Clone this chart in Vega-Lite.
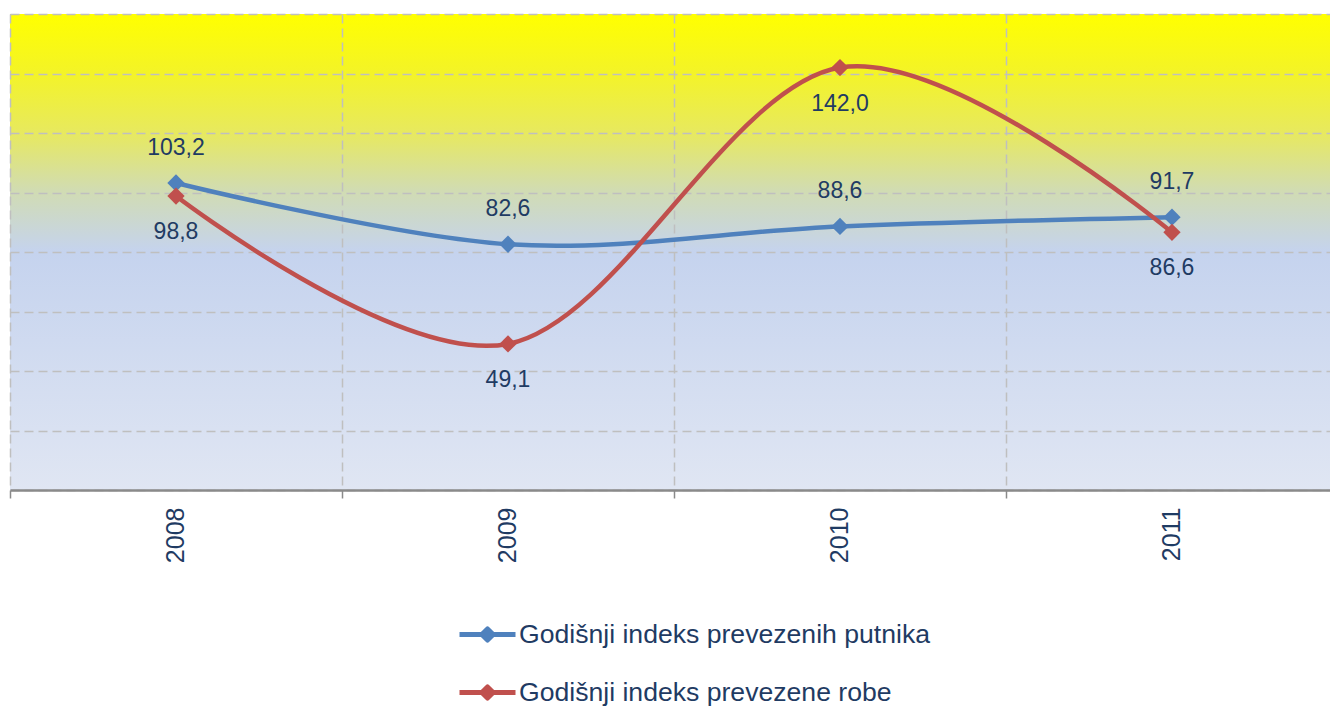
{
  "$schema": "https://vega.github.io/schema/vega-lite/v6.json",
  "width": 1320,
  "height": 476,
  "autosize": {"type": "none"},
  "padding": {"left": 10, "top": 14, "right": 0, "bottom": 216},
  "background": "#ffffff",
  "view": {
    "stroke": null,
    "fill": {
      "gradient": "linear",
      "x1": 0, "y1": 0, "x2": 0, "y2": 1,
      "stops": [
        {"offset": 0, "color": "#ffff00"},
        {"offset": 0.12, "color": "#f4f426"},
        {"offset": 0.25, "color": "#e7e95f"},
        {"offset": 0.37, "color": "#d1dcb2"},
        {"offset": 0.5, "color": "#c5d3ee"},
        {"offset": 1, "color": "#e0e6f3"}
      ]
    }
  },
  "config": {
    "font": "Liberation Sans",
    "locale": {"number": {"decimal": ",", "thousands": ".", "grouping": [3], "currency": ["", ""]}}
  },
  "data": {
    "values": [
      {"year": 2008, "series": "Godišnji indeks prevezenih putnika", "value": 103.2},
      {"year": 2009, "series": "Godišnji indeks prevezenih putnika", "value": 82.6},
      {"year": 2010, "series": "Godišnji indeks prevezenih putnika", "value": 88.6},
      {"year": 2011, "series": "Godišnji indeks prevezenih putnika", "value": 91.7},
      {"year": 2008, "series": "Godišnji indeks prevezene robe", "value": 98.8},
      {"year": 2009, "series": "Godišnji indeks prevezene robe", "value": 49.1},
      {"year": 2010, "series": "Godišnji indeks prevezene robe", "value": 142.0},
      {"year": 2011, "series": "Godišnji indeks prevezene robe", "value": 86.6}
    ]
  },
  "layer": [
    {
      "mark": {"type": "line", "interpolate": "cardinal", "strokeWidth": 4.5},
      "encoding": {
        "x": {
          "field": "year", "type": "quantitative",
          "scale": {"domain": [2007.5, 2011.476], "nice": false, "zero": false},
          "axis": {
            "orient": "bottom", "title": null, "labels": false,
            "values": [2007.5, 2008.5, 2009.5, 2010.5],
            "grid": true, "gridDash": [9, 5], "gridColor": "#bfbfbf", "gridWidth": 1.5,
            "ticks": true, "tickSize": 8, "tickColor": "#8a8a8a", "tickWidth": 1.5,
            "domain": true, "domainColor": "#8a8a8a", "domainWidth": 2.5
          }
        },
        "y": {
          "field": "value", "type": "quantitative",
          "scale": {"domain": [0, 160], "nice": false},
          "axis": {
            "title": null, "labels": false, "ticks": false, "domain": false,
            "values": [0, 20, 40, 60, 80, 100, 120, 140, 160],
            "grid": true, "gridDash": [9, 5], "gridColor": "#bfbfbf", "gridWidth": 1.5
          }
        },
        "color": {
          "field": "series", "type": "nominal",
          "scale": {
            "domain": ["Godišnji indeks prevezenih putnika", "Godišnji indeks prevezene robe"],
            "range": ["#4f81bd", "#c0504d"]
          },
          "legend": {
            "title": null, "orient": "none", "legendX": 447, "legendY": 590,
            "direction": "vertical", "padding": 0, "rowPadding": 13,
            "symbolType": "M-1,0L1,0M-0.2,0L0,-0.2L0.2,0L0,0.2Z",
            "symbolSize": 3136, "symbolStrokeWidth": 5,
            "labelFontSize": 26.6, "labelColor": "#1f3b63", "labelOffset": 1, "labelLimit": 800,
            "encode": {
              "symbols": {
                "update": {
                  "fill": {"scale": "color", "field": "value"},
                  "stroke": {"scale": "color", "field": "value"},
                  "strokeJoin": {"value": "round"},
                  "opacity": {"value": 1}
                }
              }
            }
          }
        }
      }
    },
    {
      "mark": {"type": "point", "shape": "diamond", "filled": true, "size": 300, "opacity": 1},
      "encoding": {
        "x": {"field": "year", "type": "quantitative", "axis": null},
        "y": {"field": "value", "type": "quantitative"},
        "color": {"field": "series", "type": "nominal", "legend": null}
      }
    },
    {
      "transform": [{"filter": "datum.series === 'Godišnji indeks prevezenih putnika'"}],
      "mark": {"type": "text", "baseline": "middle", "align": "center", "dy": -35, "fontSize": 23, "color": "#1f3b63"},
      "encoding": {
        "x": {
          "field": "year", "type": "quantitative",
          "axis": {
            "orient": "bottom", "title": null, "values": [2008, 2009, 2010, 2011], "format": "d",
            "labelAngle": -90, "labelFontSize": 25, "labelColor": "#1f3b63", "labelPadding": 17,
            "domain": false, "ticks": false, "grid": false
          }
        },
        "y": {"field": "value", "type": "quantitative"},
        "text": {"field": "value", "type": "quantitative", "format": ".1f"}
      }
    },
    {
      "transform": [{"filter": "datum.series === 'Godišnji indeks prevezene robe'"}],
      "mark": {"type": "text", "baseline": "middle", "align": "center", "dy": 36, "fontSize": 23, "color": "#1f3b63"},
      "encoding": {
        "x": {"field": "year", "type": "quantitative", "axis": null},
        "y": {"field": "value", "type": "quantitative"},
        "text": {"field": "value", "type": "quantitative", "format": ".1f"}
      }
    }
  ],
  "resolve": {"axis": {"x": "independent"}}
}
